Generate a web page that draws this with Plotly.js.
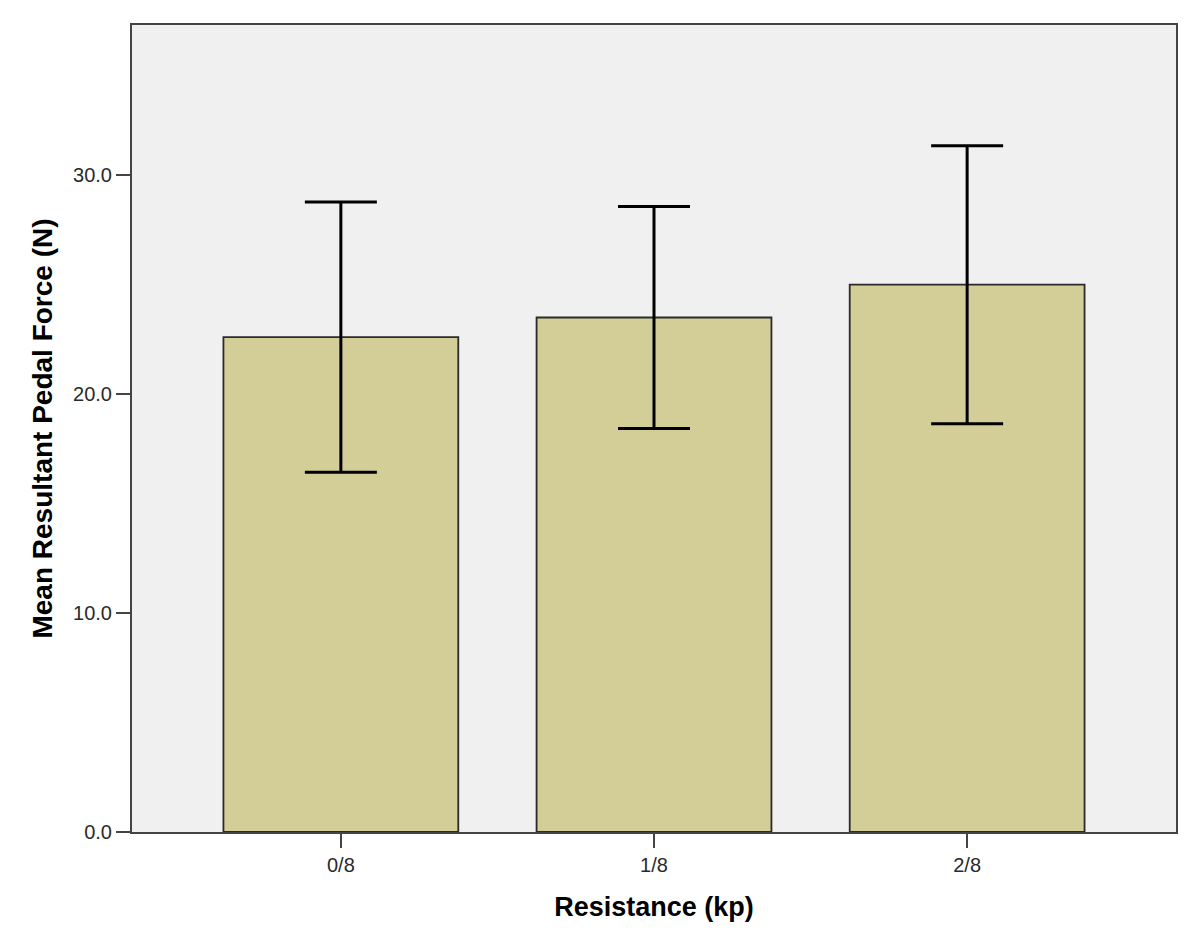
<!DOCTYPE html>
<html>
<head>
<meta charset="utf-8">
<script src="https://cdn.plot.ly/plotly-3.0.1.min.js"></script>
<style>
  body { margin: 0; background: #ffffff; }
  #chart { width: 1200px; height: 948px; }
</style>
</head>
<body>
<div id="chart"></div>
<script>
// resistance levels and mean force with error bar half-widths
const resistance = ["0/8", "1/8", "2/8"];
const meanForce = [22.6, 23.5, 25.0];
const errForce = [6.17, 5.07, 6.35];
const yTicks = [0, 10, 20, 30];

const barTrace = {
    x: resistance,
    y: meanForce,
    type: 'bar',
    width: 0.75,
    marker: {color: '#d3ce98', line: {color: '#2a2a2a', width: 1.8}},
    error_y: {type: 'data', array: errForce, visible: true,
              color: '#000000', thickness: 3, width: 36},
    hoverinfo: 'none'
};

const layout = {
    width: 1200,
    height: 948,
    margin: {l: 132, r: 24, t: 25, b: 116},
    paper_bgcolor: '#ffffff',
    plot_bgcolor: '#f0f0f0',
    showlegend: false,
    font: {family: 'Liberation Sans, Arial, sans-serif', color: '#222'},
    xaxis: {
        type: 'category',
        range: [-0.667, 2.667],
        showline: true, linecolor: '#444', linewidth: 2, mirror: true,
        ticks: 'outside', ticklen: 14, tickwidth: 2, tickcolor: '#444',
        tickfont: {size: 20, color: '#2a2a2a'},
        showgrid: false, zeroline: false,
        title: {text: 'Resistance (kp)', font: {size: 27, color: '#000', weight: 'bold'}, standoff: 22}
    },
    yaxis: {
        range: [0, 36.86],
        tickvals: yTicks,
        tickformat: '.1f',
        showline: true, linecolor: '#444', linewidth: 2, mirror: true,
        ticks: 'outside', ticklen: 14, tickwidth: 2, tickcolor: '#444',
        tickfont: {size: 20, color: '#2a2a2a'},
        showgrid: false, zeroline: false,
        title: {text: 'Mean Resultant Pedal Force (N)', font: {size: 28, color: '#000', weight: 'bold'}, standoff: 12}
    }
};

Plotly.newPlot('chart', [barTrace], layout, {displayModeBar: false, staticPlot: true});
</script>
</body>
</html>
